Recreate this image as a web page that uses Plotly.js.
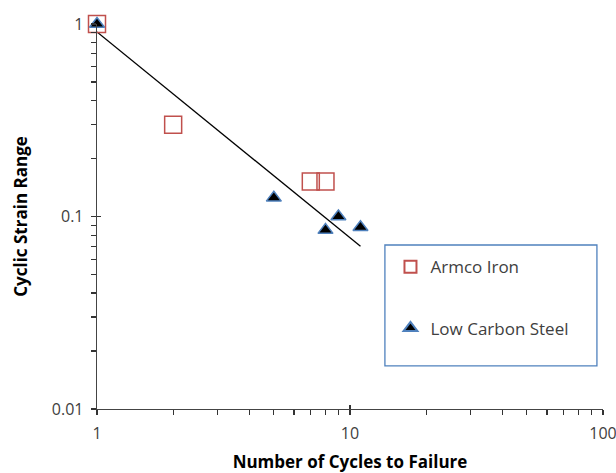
<!DOCTYPE html>
<html>
<head>
<meta charset="utf-8">
<script src="https://cdn.plot.ly/plotly-3.0.1.min.js"></script>
<style>html,body{margin:0;padding:0;background:#fff}#chart{width:616px;height:473px}</style>
</head>
<body>
<div id="chart"></div>
<script>
const armcoCycles = [1, 2, 7, 8];
const armcoStrain = [1, 0.30, 0.152, 0.152];
const steelCycles = [1, 5, 8, 9, 11];
const steelStrain = [1, 0.125, 0.085, 0.100, 0.088];
const fitCycles = [1, 11];
const fitStrain = [0.91, 0.070];
const xTickVals = [1, 10, 100];
const xTickText = ['1', '10', '100'];
const xMinorVals = [2,3,4,5,6,7,8,9,20,30,40,50,60,70,80,90];
const yTickVals = [0.01, 0.1, 1];
const yTickText = ['0.01', '0.1', '1'];
const yMinorVals = [0.02,0.03,0.04,0.05,0.06,0.07,0.08,0.09,0.2,0.3,0.4,0.5,0.6,0.7,0.8,0.9];

const FONT = 'Open Sans, Liberation Sans, sans-serif';
const AX = '#333';

const xAllVals = xTickVals.concat(xMinorVals);
const xAllText = xTickText.concat(xMinorVals.map(() => ''));
const yAllVals = yTickVals.concat(yMinorVals);
const yAllText = yTickText.concat(yMinorVals.map(() => ''));

const traces = [
  {x: fitCycles, y: fitStrain, mode: 'lines', line: {color: '#000', width: 1.3}, showlegend: false, hoverinfo: 'skip'},
  {x: armcoCycles, y: armcoStrain, mode: 'markers', name: 'Armco Iron', legendgroup: 'a', cliponaxis: false,
   marker: {symbol: 'square-open', size: 17, color: '#C0504D', line: {width: 1.5, color: '#C0504D'}}},
  {x: steelCycles, y: steelStrain, mode: 'markers', name: 'Low Carbon Steel', legendgroup: 'b', cliponaxis: false,
   marker: {symbol: 'triangle-up', size: 13, color: '#000', line: {width: 1.5, color: '#4F81BD'}}},
  {x: [null], y: [null], xaxis: 'x2', yaxis: 'y2', showlegend: false, hoverinfo: 'skip'}
];

const layout = {
  width: 616, height: 473,
  margin: {l: 97, r: 13, t: 24, b: 64},
  paper_bgcolor: '#fff', plot_bgcolor: '#fff',
  font: {family: FONT, size: 14, color: '#404040'},
  showlegend: true,
  xaxis: {
    type: 'log', range: [0, 2], tickmode: 'array', tickvals: xAllVals, ticktext: xAllText,
    showgrid: false, zeroline: false, showline: true, linecolor: '#444', linewidth: 1.3,
    ticks: 'outside', ticklen: 5, tickcolor: AX, tickwidth: 1.3, ticklabelstandoff: 4,
    ticklabeloverflow: 'allow',
    tickfont: {size: 16, color: '#404040'},
    automargin: false,
    title: {text: '<b>Number of Cycles to Failure</b>', font: {size: 17, color: '#000'}, standoff: 20}
  },
  yaxis: {
    type: 'log', range: [-2, 0], tickmode: 'array', tickvals: yAllVals, ticktext: yAllText,
    showgrid: false, zeroline: false, showline: true, linecolor: '#444', linewidth: 1.3,
    ticks: 'outside', ticklen: 5, tickcolor: AX, tickwidth: 1.3, ticklabelstandoff: 4,
    ticklabeloverflow: 'allow',
    tickfont: {size: 16, color: '#404040'},
    automargin: false,
    title: {text: '<b>Cyclic Strain Range</b>', font: {size: 17, color: '#000'}, standoff: 20}
  },
  xaxis2: {
    type: 'log', range: [0, 2], overlaying: 'x', anchor: 'y2', side: 'bottom',
    tickmode: 'array', tickvals: xTickVals, showticklabels: false, ticks: 'inside', ticklen: 4, tickcolor: AX, tickwidth: 1.3,
    showgrid: false, zeroline: false, showline: false
  },
  yaxis2: {
    type: 'log', range: [-2, 0], overlaying: 'y', anchor: 'x2', side: 'left',
    tickmode: 'array', tickvals: yTickVals, showticklabels: false, ticks: 'inside', ticklen: 4, tickcolor: AX, tickwidth: 1.3,
    showgrid: false, zeroline: false, showline: false
  },
  legend: {
    x: 0.58, y: 0.415, xanchor: 'left', yanchor: 'top',
    bgcolor: 'rgba(0,0,0,0)', borderwidth: 0,
    font: {size: 17, color: '#404040'},
    tracegroupgap: 36, itemsizing: 'constant'
  },
  shapes: [{
    type: 'rect', xref: 'paper', yref: 'paper',
    x0: 0.569, x1: 0.988, y0: 0.112, y1: 0.426,
    line: {color: '#4F81BD', width: 1.3}, fillcolor: 'rgba(0,0,0,0)', layer: 'below'
  }]
};

Plotly.newPlot('chart', traces, layout, {displayModeBar: false, staticPlot: true});
</script>
</body>
</html>
